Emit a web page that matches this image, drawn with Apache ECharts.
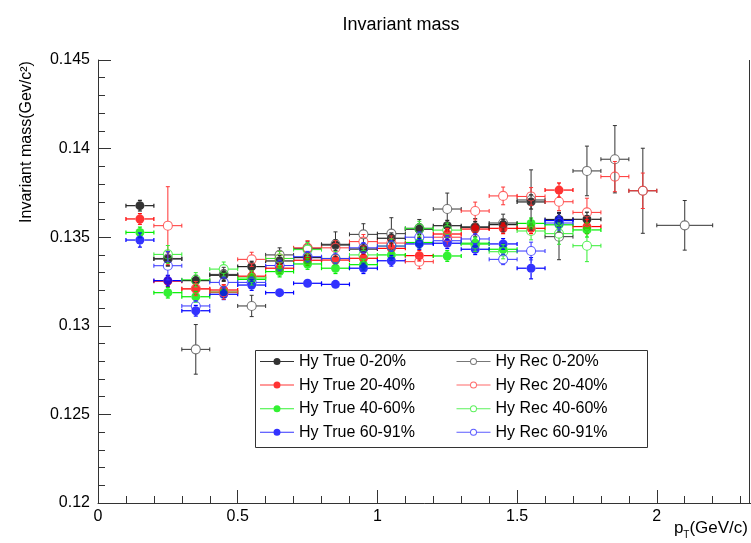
<!DOCTYPE html>
<html><head><meta charset="utf-8">
<script src="https://cdn.jsdelivr.net/npm/echarts@6/dist/echarts.min.js"></script>
<style>html,body{margin:0;padding:0;background:#fff}#c{width:751px;height:543px}</style>
</head><body><div id="c"></div>
<script>
const FONT = '"Liberation Sans", Arial, Helvetica, sans-serif';

// ---- data ----
const xTrue      = [0.15,0.25,0.35,0.45,0.55,0.65,0.75,0.85,0.95,1.05,1.15,1.25,1.35,1.45,1.55,1.65,1.75];
const xTrueBlue  = [0.15,0.25,0.35,0.45,0.55,0.65,0.75,0.85,0.95,1.05,1.15,1.25,1.35,1.45,1.55,1.65];
const xRecBlack  = [0.25,0.35,0.45,0.55,0.65,0.75,0.85,0.95,1.05,1.15,1.25,1.35,1.45,1.55,1.65,1.75,1.85,1.95,2.1];
const xRecRed    = [0.25,0.35,0.45,0.55,0.65,0.75,0.85,0.95,1.05,1.15,1.25,1.35,1.45,1.55,1.65,1.75,1.85,1.95];
const xRecGreen  = [0.25,0.35,0.45,0.55,0.65,0.75,0.85,0.95,1.05,1.15,1.25,1.35,1.45,1.55,1.65,1.75];
const xRecBlue   = [0.25,0.35,0.45,0.55,0.65,0.75,0.85,0.95,1.05,1.15,1.25,1.35,1.45,1.55,1.65];
const xHalfBin   = 0.05;
const xErrRecBlack = [0.05,0.05,0.05,0.05,0.05,0.05,0.05,0.05,0.05,0.05,0.05,0.05,0.05,0.05,0.05,0.05,0.05,0.05,0.1];

const trueBlack    = [0.13678,0.13377,0.13255,0.13285,0.13334,0.13366,0.13385,0.13456,0.13433,0.13494,0.13545,0.13565,0.13558,0.13571,0.13699,0.13600,0.13601];
const trueBlackErr = [0.0003,0.0004,0.0003,0.0003,0.0003,0.0003,0.0003,0.0003,0.0003,0.0003,0.0003,0.0003,0.0003,0.0003,0.0004,0.0004,0.0004];
const trueRed      = [0.13603,0.13252,0.13208,0.13202,0.13280,0.13325,0.13370,0.13371,0.13381,0.13437,0.13396,0.13518,0.13546,0.13550,0.13550,0.13766,0.13560];
const trueRedErr   = [0.0003,0.0003,0.0003,0.0003,0.0003,0.0003,0.0003,0.0003,0.0003,0.0003,0.0003,0.0003,0.0003,0.0003,0.0003,0.0004,0.0004];
const trueGreen    = [0.13527,0.13187,0.13164,0.13190,0.13262,0.13306,0.13349,0.13325,0.13345,0.13400,0.13470,0.13394,0.13466,0.13432,0.13578,0.13570,0.13541];
const trueGreenErr = [0.0003,0.0003,0.0003,0.0003,0.0003,0.0003,0.0003,0.0003,0.0003,0.0003,0.0003,0.0003,0.0003,0.0003,0.0003,0.0004,0.0004];
const trueBlue     = [0.13484,0.13255,0.13085,0.13178,0.13230,0.13187,0.13240,0.13234,0.13325,0.13367,0.13462,0.13466,0.13432,0.13462,0.13325,0.13594];
const trueBlueErr  = [0.0004,0.0003,0.0003,0.0003,0.0003,0.0002,0.0002,0.0002,0.0003,0.0003,0.0003,0.0003,0.0003,0.0003,0.0006,0.0004];

const recBlack     = [0.13380,0.12867,0.13290,0.13112,0.13400,0.13437,0.13460,0.13516,0.13520,0.13550,0.13659,0.13555,0.13580,0.13710,0.13503,0.13874,0.13940,0.13762,0.13567];
const recBlackErr  = [0.0004,0.0014,0.0004,0.0006,0.0004,0.0004,0.0007,0.0006,0.0009,0.0005,0.0009,0.0005,0.0005,0.0017,0.0013,0.0014,0.0019,0.0024,0.0014];
const recRed       = [0.13565,0.13210,0.13190,0.13375,0.13380,0.13440,0.13440,0.13475,0.13467,0.13362,0.13500,0.13648,0.13733,0.13730,0.13700,0.13640,0.13842,0.13762];
const recRedErr    = [0.0022,0.0004,0.0004,0.0004,0.0004,0.0004,0.0004,0.0004,0.0004,0.0004,0.0005,0.0005,0.0005,0.0005,0.0005,0.0008,0.00085,0.0010];
const recGreen     = [0.13403,0.13260,0.13320,0.13270,0.13380,0.13430,0.13380,0.13400,0.13450,0.13550,0.13540,0.13460,0.13418,0.13535,0.13520,0.13452];
const recGreenErr  = [0.0005,0.0004,0.0004,0.0004,0.0004,0.0004,0.0004,0.0004,0.0004,0.0004,0.0004,0.0004,0.0004,0.0005,0.0006,0.0009];
const recBlue      = [0.13339,0.13112,0.13245,0.13245,0.13340,0.13390,0.13380,0.13440,0.13450,0.13500,0.13480,0.13490,0.13375,0.13422,0.13580];
const recBlueErr   = [0.0008,0.0003,0.0003,0.0003,0.0003,0.0003,0.0003,0.0003,0.0003,0.0003,0.0003,0.0003,0.0003,0.0005,0.0004];

const legendTrue = ['Hy True 0-20%','Hy True 20-40%','Hy True 40-60%','Hy True 60-91%'];
const legendRec  = ['Hy Rec 0-20%','Hy Rec 20-40%','Hy Rec 40-60%','Hy Rec 60-91%'];
const yTicksMin = 0.12, yTicksMax = 0.145, yTickStep = 0.005;
const xTickStep = 0.5;
const xFrameRight = 2.33;

// ---- styles ----
const sets = [
  {name: legendTrue[0], xs: xTrue,     ys: trueBlack, ye: trueBlackErr, filled: true,  color: '#000000', err: '#222222'},
  {name: legendTrue[1], xs: xTrue,     ys: trueRed,   ye: trueRedErr,   filled: true,  color: '#ff0000', err: '#ff0000'},
  {name: legendTrue[2], xs: xTrue,     ys: trueGreen, ye: trueGreenErr, filled: true,  color: '#00ee00', err: '#00ee00'},
  {name: legendTrue[3], xs: xTrueBlue, ys: trueBlue,  ye: trueBlueErr,  filled: true,  color: '#0000ff', err: '#0000ff'},
  {name: legendRec[0],  xs: xRecBlack, ys: recBlack,  ye: recBlackErr,  xe: xErrRecBlack, filled: false, color: '#555555', err: '#333333'},
  {name: legendRec[1],  xs: xRecRed,   ys: recRed,    ye: recRedErr,    filled: false, color: '#ff4444', err: '#ff3333'},
  {name: legendRec[2],  xs: xRecGreen, ys: recGreen,  ye: recGreenErr,  filled: false, color: '#33ee33', err: '#33ee33'},
  {name: legendRec[3],  xs: xRecBlue,  ys: recBlue,   ye: recBlueErr,   filled: false, color: '#3333ff', err: '#3333ff'}
];

function makeErr(color, lw) {
  return function (params, api) {
    const x = api.value(0), y = api.value(1), ex = api.value(2), ey = api.value(3);
    const c = api.coord([x, y]);
    const xl = api.coord([x - ex, y])[0], xr = api.coord([x + ex, y])[0];
    const yt = api.coord([x, y + ey])[1], yb = api.coord([x, y - ey])[1];
    const g = 4.5, cap = 2;
    const st = {stroke: color, lineWidth: lw};
    const ch = [];
    const seg = (x1, y1, x2, y2) => ch.push({type: 'line', shape: {x1, y1, x2, y2}, style: st});
    if (c[0] - xl > g) { seg(xl, c[1], c[0] - g, c[1]); seg(xl, c[1] - cap, xl, c[1] + cap); }
    if (xr - c[0] > g) { seg(c[0] + g, c[1], xr, c[1]); seg(xr, c[1] - cap, xr, c[1] + cap); }
    if (c[1] - yt > g) { seg(c[0], yt, c[0], c[1] - g); seg(c[0] - cap, yt, c[0] + cap, yt); }
    if (yb - c[1] > g) { seg(c[0], c[1] + g, c[0], yb); seg(c[0] - cap, yb, c[0] + cap, yb); }
    return {type: 'group', children: ch};
  };
}

const series = [];
sets.forEach((s, i) => {
  const errData = s.xs.map((x, k) => [x, s.ys[k], s.xe ? s.xe[k] : xHalfBin, s.ye[k]]);
  series.push({
    type: 'custom', name: s.name + ' err', z: 2 + i * 2,
    renderItem: makeErr(s.err, s.filled ? 1.2 : 1),
    encode: {x: 0, y: 1}, data: errData, silent: true, clip: true
  });
  series.push({
    type: 'scatter', name: s.name, z: 3 + i * 2,
    symbol: 'circle', symbolSize: 9,
    itemStyle: s.filled ? {color: s.color} : {color: 'rgba(0,0,0,0)', borderColor: s.color, borderWidth: 1.1},
    data: s.xs.map((x, k) => [x, s.ys[k]]),
    silent: true
  });
});
series.push({
  type: 'line', name: 'frame', data: [], silent: true,
  markLine: {silent: true, symbol: 'none', label: {show: false}, animation: false,
    lineStyle: {color: '#333', type: 'solid', width: 1}, data: [{xAxis: xFrameRight}]}
});

const iconFilled = 'path://M0,3 L34,3 L34,4 L0,4 Z M13.5,3.5 A3.5,3.5 0 1 1 20.5,3.5 A3.5,3.5 0 1 1 13.5,3.5 Z';
const iconOpen = 'path://M0,3 L13.6,3 L13.6,4 L0,4 Z M20.4,3 L34,3 L34,4 L20.4,4 Z M13.5,3.5 A3.5,3.5 0 1 1 20.5,3.5 A3.5,3.5 0 1 1 13.5,3.5 Z M14.5,3.5 A2.5,2.5 0 1 0 19.5,3.5 A2.5,2.5 0 1 0 14.5,3.5 Z';

function legendOf(names, filled, left, colors) {
  return {
    orient: 'vertical', left: left, top: 353.5, padding: 0,
    itemWidth: 34, itemHeight: 7, itemGap: 7.6,
    selectedMode: false,
    textStyle: {fontFamily: FONT, fontSize: 16, lineHeight: 16, color: '#000'},
    data: names.map((n, k) => ({name: n, icon: filled ? iconFilled : iconOpen,
      itemStyle: {color: colors[k], borderWidth: 0}}))
  };
}

const chart = echarts.init(document.getElementById('c'), null, {renderer: 'canvas'});
chart.setOption({
  animation: false,
  backgroundColor: '#fff',
  title: {text: 'Invariant mass', left: 396, top: 11, textAlign: 'center',
    textStyle: {fontFamily: FONT, fontSize: 18, fontWeight: 'normal', color: '#000'}},
  grid: {left: 98, top: 60, bottom: 40, right: -45.5, outerBoundsMode: 'none', containLabel: false},
  xAxis: {
    type: 'value', min: 0, max: 2.5, interval: xTickStep,
    axisLine: {lineStyle: {color: '#333', width: 1}},
    axisTick: {inside: true, length: 13, lineStyle: {color: '#333'}},
    minorTick: {show: true, splitNumber: 5, length: 7, lineStyle: {color: '#333'}},
    splitLine: {show: false},
    axisLabel: {fontFamily: FONT, fontSize: 16, color: '#000', margin: 6, showMaxLabel: false}
  },
  yAxis: {
    type: 'value', min: yTicksMin, max: yTicksMax, interval: yTickStep,
    axisLine: {show: true, lineStyle: {color: '#333', width: 1}},
    axisTick: {show: true, inside: true, length: 13, lineStyle: {color: '#333'}},
    minorTick: {show: true, splitNumber: 5, length: 7, lineStyle: {color: '#333'}},
    splitLine: {show: false},
    axisLabel: {fontFamily: FONT, fontSize: 16, color: '#000', margin: 8}
  },
  legend: [
    legendOf(legendTrue, true, 260, ['#000', '#ff0000', '#00ee00', '#0000ff']),
    legendOf(legendRec, false, 456.5, ['#555', '#ff4444', '#33ee33', '#3333ff'])
  ],
  graphic: [
    {type: 'rect', left: 253, top: 348, z: 50, silent: true,
      shape: {width: 392, height: 97}, style: {fill: 'none', stroke: '#333', lineWidth: 1}},
    {type: 'text', x: 27, y: 142, rotation: Math.PI / 2, z: 50, silent: true,
      style: {text: 'Invariant mass(Gev/c²)', font: '16px ' + FONT, fill: '#000', align: 'center', verticalAlign: 'middle'}},
    {type: 'text', x: 748, y: 528, z: 50, silent: true,
      style: {text: '{p|p}{t|T}{p|(GeV/c)}', align: 'right', verticalAlign: 'middle',
        rich: {p: {fontFamily: FONT, fontSize: 17, lineHeight: 24, verticalAlign: 'middle', fill: '#000'},
               t: {fontFamily: FONT, fontSize: 10, lineHeight: 24, verticalAlign: 'bottom', fill: '#000'}}}}
  ],
  series: series
});
</script></body></html>
